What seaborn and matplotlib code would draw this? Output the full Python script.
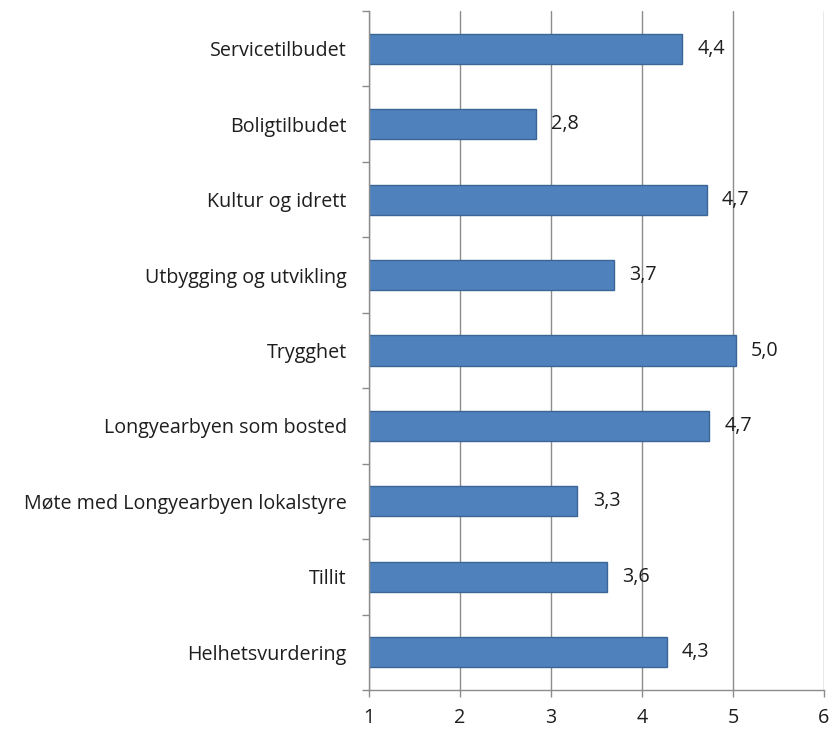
import matplotlib
matplotlib.use("Agg")
import matplotlib.pyplot as plt
import seaborn as sns
import pandas as pd
from matplotlib.ticker import FixedLocator

categories = ["Servicetilbudet", "Boligtilbudet", "Kultur og idrett",
              "Utbygging og utvikling", "Trygghet", "Longyearbyen som bosted",
              "Møte med Longyearbyen lokalstyre", "Tillit", "Helhetsvurdering"]
values = [4.44, 2.83, 4.71, 3.69, 5.03, 4.74, 3.29, 3.61, 4.27]
labels = ["4,4", "2,8", "4,7", "3,7", "5,0", "4,7", "3,3", "3,6", "4,3"]
xticks = [1, 2, 3, 4, 5, 6]

df = pd.DataFrame({"kategori": categories, "verdi": values})

sns.set_style("white")
plt.rcParams["font.family"] = ["Open Sans", "DejaVu Sans"]

fig = plt.figure(figsize=(8.33, 7.31), dpi=100)
ax = fig.add_axes([369/833, 1 - 690/731, (824 - 369)/833, (690 - 11)/731])

sns.barplot(data=df, x="verdi", y="kategori", orient="h", color="#4F81BD",
            saturation=1, width=0.4, edgecolor="#3A6595", linewidth=1, ax=ax)

ax.set_xlim(1, 6)
ax.set_ylim(8.5, -0.5)
ax.set_xticks(xticks)
ax.set_xticklabels([str(t) for t in xticks])
ax.set_xlabel("")
ax.set_ylabel("")

grid_col = "#8C8C8C"
ax.grid(axis="x", color=grid_col, linewidth=1)
ax.set_axisbelow(True)
for s in ["top", "right"]:
    ax.spines[s].set_visible(False)
for s in ["left", "bottom"]:
    ax.spines[s].set_color(grid_col)
    ax.spines[s].set_linewidth(1)

txt_col = "#1E1E1E"
fs = 14.2
ax.yaxis.set_minor_locator(FixedLocator([i - 0.5 for i in range(len(categories) + 1)]))
ax.tick_params(axis="y", which="major", length=0, pad=16, labelsize=fs, labelcolor=txt_col)
ax.tick_params(axis="y", which="minor", length=5, width=1, color=grid_col, left=True)
ax.tick_params(axis="x", which="major", length=5, width=1, color=grid_col, bottom=True,
               pad=8, labelsize=fs, labelcolor=txt_col)

ax.bar_label(ax.containers[0], labels=labels, padding=11, fontsize=fs, color=txt_col)

fig.savefig("out.png", dpi=100)
